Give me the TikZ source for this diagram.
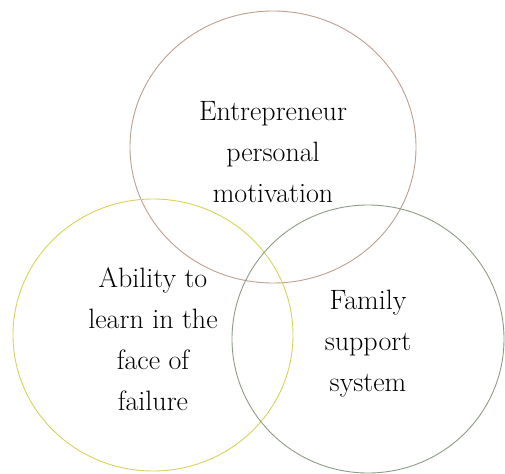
\documentclass[tikz,border=0pt]{standalone}
\usetikzlibrary{shapes.geometric}

\definecolor{ringTan}{HTML}{BCA08E}
\definecolor{ringYellow}{HTML}{D6D25A}
\definecolor{ringGreen}{HTML}{8E9C86}

\begin{document}
\begin{tikzpicture}[
  x=1pt, y=-1pt,
  every node/.style={font=\rmfamily\fontsize{28}{41}\selectfont, text=black},
  ring/.style={draw, ellipse, line width=.9pt, align=center, inner sep=0pt,
               minimum width=280pt, minimum height=270pt}
]
\useasboundingbox (0,0) rectangle (505,473);

% ===== Three overlapping factors =====
\node[ring, draw=ringTan, minimum width=286pt, minimum height=272pt] (motivation) at (273,147)
  {\strut Entrepreneur\\personal\\motivation};
\node[ring, draw=ringYellow, minimum height=272pt] (learning) at (153,335)
  {\strut Ability to\\learn in the\\face of\\failure};
\node[ring, draw=ringGreen, minimum width=272pt, minimum height=268pt] (family) at (368,339)
  {\strut Family\\support\\system};

\end{tikzpicture}
\end{document}
